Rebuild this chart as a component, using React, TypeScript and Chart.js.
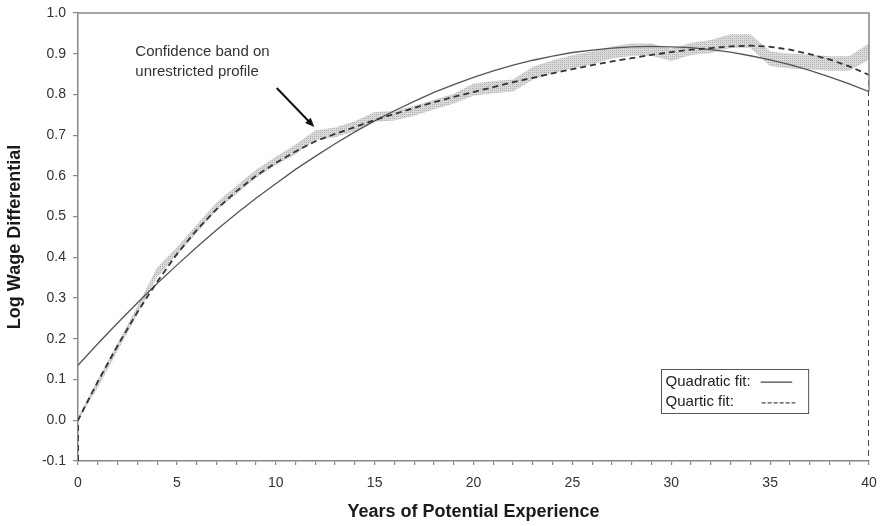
import React, { useEffect, useRef } from "react";
import { Chart, registerables } from "chart.js";

Chart.register(...registerables);

// ---- data ----
const years = [
  0, 1, 2, 3, 4, 5, 6, 7, 8, 9, 10, 11, 12, 13, 14, 15, 16, 17, 18, 19, 20,
  21, 22, 23, 24, 25, 26, 27, 28, 29, 30, 31, 32, 33, 34, 35, 36, 37, 38, 39, 40,
];

const quadraticFit = [
  0.135, 0.188, 0.239, 0.288, 0.336, 0.381, 0.425, 0.467, 0.507, 0.545, 0.581,
  0.616, 0.648, 0.679, 0.708, 0.735, 0.76, 0.783, 0.805, 0.824, 0.842,
  0.858, 0.872, 0.884, 0.894, 0.903, 0.909, 0.914, 0.917, 0.918, 0.917,
  0.915, 0.91, 0.904, 0.895, 0.885, 0.873, 0.859, 0.843, 0.826, 0.807,
];

const quarticFit = [
  0.0, 0.095, 0.183, 0.265, 0.34, 0.408, 0.467, 0.518, 0.562, 0.6, 0.632,
  0.66, 0.685, 0.703, 0.72, 0.737, 0.752, 0.767, 0.781, 0.794, 0.806,
  0.818, 0.83, 0.841, 0.852, 0.862, 0.872, 0.881, 0.889, 0.897, 0.904,
  0.91, 0.914, 0.918, 0.92, 0.917, 0.91, 0.899, 0.886, 0.869, 0.848,
];

const bandUpper = [
  0.008, 0.1, 0.19, 0.28, 0.375, 0.425, 0.48, 0.535, 0.575, 0.615, 0.647,
  0.677, 0.712, 0.719, 0.734, 0.757, 0.76, 0.772, 0.787, 0.802, 0.827,
  0.833, 0.837, 0.868, 0.884, 0.896, 0.906, 0.918, 0.925, 0.925, 0.912,
  0.927, 0.934, 0.948, 0.948, 0.906, 0.9, 0.898, 0.894, 0.894, 0.925,
];

const bandLower = [
  0.0, 0.08, 0.17, 0.26, 0.352, 0.405, 0.46, 0.515, 0.555, 0.595, 0.627,
  0.653, 0.688, 0.695, 0.71, 0.733, 0.736, 0.748, 0.763, 0.778, 0.797,
  0.803, 0.807, 0.836, 0.852, 0.864, 0.874, 0.888, 0.895, 0.895, 0.882,
  0.897, 0.902, 0.914, 0.914, 0.87, 0.864, 0.862, 0.858, 0.858, 0.885,
];

const yTicks = [-0.1, 0.0, 0.1, 0.2, 0.3, 0.4, 0.5, 0.6, 0.7, 0.8, 0.9, 1.0];
const xMin = 0;
const xMax = 40;
const xLabelStep = 5;

const xTitle = "Years of Potential Experience";
const yTitle = "Log Wage Differential";
const noteLines = ["Confidence band on", "unrestricted profile"];
const legendLabels = ["Quadratic fit:", "Quartic fit:"];

// ---- placement of annotations (in data units) ----
const notePos = { x: 2.9, y1: 0.905, y2: 0.856 };
const arrowPos = { x0: 10.05, y0: 0.816, x1: 11.95, y1: 0.72 };
const legendPos = { x0: 29.46, x1: 36.9, y0: 0.126, y1: 0.018 };

const FONT = "'Liberation Sans', Arial, Helvetica, sans-serif";

function makePattern(): CanvasPattern | string {
  const c = document.createElement("canvas");
  c.width = 2;
  c.height = 2;
  const g = c.getContext("2d");
  if (!g) return "#cccccc";
  g.fillStyle = "#d9d9d9";
  g.fillRect(0, 0, 2, 2);
  g.fillStyle = "#b4b4b4";
  g.fillRect(0, 0, 1, 1);
  const p = g.createPattern(c, "repeat");
  return p || "#cccccc";
}

export default function App() {
  const ref = useRef<HTMLCanvasElement | null>(null);

  useEffect(() => {
    const canvas = ref.current;
    if (!canvas) return;
    const yMin = yTicks[0];

    const pts = (arr: number[]) => years.map((x, i) => ({ x, y: arr[i] }));
    const quarticPts = [
      { x: years[0], y: yMin },
      ...pts(quarticFit),
      { x: years[years.length - 1], y: yMin },
    ];

    const decor = {
      id: "decor",
      afterDatasetsDraw(chart: any) {
        const ctx = chart.ctx;
        const xs = chart.scales.x;
        const ys = chart.scales.y;
        const a = chart.chartArea;
        ctx.save();
        // top and right frame
        ctx.strokeStyle = "#888888";
        ctx.lineWidth = 1.5;
        ctx.beginPath();
        ctx.moveTo(a.left, a.top);
        ctx.lineTo(a.right, a.top);
        ctx.lineTo(a.right, ys.getPixelForValue(quadraticFit[quadraticFit.length - 1]));
        ctx.stroke();

        // note text
        ctx.fillStyle = "#333333";
        ctx.font = `15px ${FONT}`;
        ctx.textAlign = "left";
        ctx.textBaseline = "middle";
        const nx = xs.getPixelForValue(notePos.x);
        ctx.fillText(noteLines[0], nx, ys.getPixelForValue(notePos.y1));
        ctx.fillText(noteLines[1], nx, ys.getPixelForValue(notePos.y2));

        // arrow
        const ax0 = xs.getPixelForValue(arrowPos.x0);
        const ay0 = ys.getPixelForValue(arrowPos.y0);
        const ax1 = xs.getPixelForValue(arrowPos.x1);
        const ay1 = ys.getPixelForValue(arrowPos.y1);
        const ang = Math.atan2(ay1 - ay0, ax1 - ax0);
        ctx.strokeStyle = "#111111";
        ctx.fillStyle = "#111111";
        ctx.lineWidth = 2;
        ctx.beginPath();
        ctx.moveTo(ax0, ay0);
        ctx.lineTo(ax1 - 6 * Math.cos(ang), ay1 - 6 * Math.sin(ang));
        ctx.stroke();
        ctx.beginPath();
        ctx.moveTo(ax1, ay1);
        ctx.lineTo(ax1 - 10 * Math.cos(ang - 0.4), ay1 - 10 * Math.sin(ang - 0.4));
        ctx.lineTo(ax1 - 10 * Math.cos(ang + 0.4), ay1 - 10 * Math.sin(ang + 0.4));
        ctx.closePath();
        ctx.fill();

        // legend box
        const lx0 = xs.getPixelForValue(legendPos.x0);
        const lx1 = xs.getPixelForValue(legendPos.x1);
        const ly0 = ys.getPixelForValue(legendPos.y0);
        const ly1 = ys.getPixelForValue(legendPos.y1);
        ctx.fillStyle = "#ffffff";
        ctx.fillRect(lx0, ly0, lx1 - lx0, ly1 - ly0);
        ctx.strokeStyle = "#555555";
        ctx.lineWidth = 1;
        ctx.strokeRect(Math.round(lx0) + 0.5, Math.round(ly0) + 0.5, lx1 - lx0, ly1 - ly0);
        const h = ly1 - ly0;
        const r1 = ly0 + h * 0.3;
        const r2 = ly0 + h * 0.75;
        ctx.fillStyle = "#222222";
        ctx.font = `15px ${FONT}`;
        ctx.textBaseline = "middle";
        ctx.fillText(legendLabels[0], lx0 + 5, r1);
        ctx.fillText(legendLabels[1], lx0 + 5, r2);
        const s0 = lx0 + (lx1 - lx0) * 0.68;
        const s1 = lx0 + (lx1 - lx0) * 0.895;
        ctx.strokeStyle = "#444444";
        ctx.lineWidth = 1.3;
        ctx.beginPath();
        ctx.moveTo(s0, r1);
        ctx.lineTo(s1, r1);
        ctx.stroke();
        ctx.setLineDash([4, 2]);
        ctx.beginPath();
        ctx.moveTo(s0 + 1, r2 + 1);
        ctx.lineTo(s1 + 3, r2 + 1);
        ctx.stroke();
        ctx.setLineDash([]);
        ctx.restore();
      },
    };

    const chart = new Chart(canvas, {
      type: "line",
      data: {
        datasets: [
          {
            label: "band upper",
            data: pts(bandUpper),
            borderWidth: 0,
            borderColor: "rgba(0,0,0,0)",
            pointRadius: 0,
            fill: false,
            order: 3,
          },
          {
            label: "band lower",
            data: pts(bandLower),
            borderWidth: 0,
            borderColor: "rgba(0,0,0,0)",
            backgroundColor: makePattern() as any,
            pointRadius: 0,
            fill: "-1",
            order: 3,
          },
          {
            label: "Quadratic fit",
            data: pts(quadraticFit),
            borderColor: "#555555",
            borderWidth: 1.3,
            pointRadius: 0,
            fill: false,
            order: 1,
          },
          {
            label: "Quartic fit",
            data: quarticPts,
            borderColor: "#333333",
            borderWidth: 1.8,
            borderDash: [6, 4],
            pointRadius: 0,
            fill: false,
            order: 0,
          },
        ],
      },
      options: {
        animation: false,
        responsive: false,
        events: [],
        layout: { padding: { left: 0, right: 12, top: 13, bottom: 0 } },
        plugins: {
          legend: { display: false },
          tooltip: { enabled: false },
        },
        scales: {
          x: {
            type: "linear",
            min: xMin,
            max: xMax,
            afterFit: (s: any) => {
              s.height = 65;
              s.paddingLeft = 0;
              s.paddingRight = 0;
            },
            grid: {
              display: true,
              drawOnChartArea: false,
              drawTicks: true,
              tickLength: 4,
              color: "#888888",
              lineWidth: 1.2,
            },
            border: { display: true, color: "#888888", width: 1.5 },
            ticks: {
              stepSize: 1,
              autoSkip: false,
              maxRotation: 0,
              padding: 10,
              color: "#333333",
              font: { family: FONT, size: 14 },
              callback: (v: any) => (Number(v) % xLabelStep === 0 ? String(v) : ""),
            },
            title: {
              display: true,
              text: xTitle,
              color: "#1a1a1a",
              font: { family: FONT, size: 18, weight: "bold" },
              padding: { top: 0, bottom: 3 },
            },
          },
          y: {
            type: "linear",
            min: yTicks[0],
            max: yTicks[yTicks.length - 1],
            afterFit: (s: any) => {
              s.width = 78;
              s.paddingTop = 0;
              s.paddingBottom = 0;
            },
            afterBuildTicks: (s: any) => {
              s.ticks = yTicks.map((v) => ({ value: v }));
            },
            grid: {
              display: true,
              drawOnChartArea: false,
              drawTicks: true,
              tickLength: 5,
              color: "#888888",
              lineWidth: 1.2,
            },
            border: { display: true, color: "#888888", width: 1.5 },
            ticks: {
              padding: 7,
              color: "#333333",
              font: { family: FONT, size: 14 },
              callback: (v: any) => Number(v).toFixed(1),
            },
            title: {
              display: true,
              text: yTitle,
              color: "#1a1a1a",
              font: { family: FONT, size: 18, weight: "bold" },
              padding: { top: 4, bottom: 0 },
            },
          },
        },
      },
      plugins: [decor],
    } as any);

    return () => chart.destroy();
  }, []);

  return (
    <div style={{ position: "fixed", left: 0, top: 0, width: 881, height: 526, background: "#ffffff" }}>
      <canvas ref={ref} width={881} height={526} style={{ display: "block" }} />
    </div>
  );
}
